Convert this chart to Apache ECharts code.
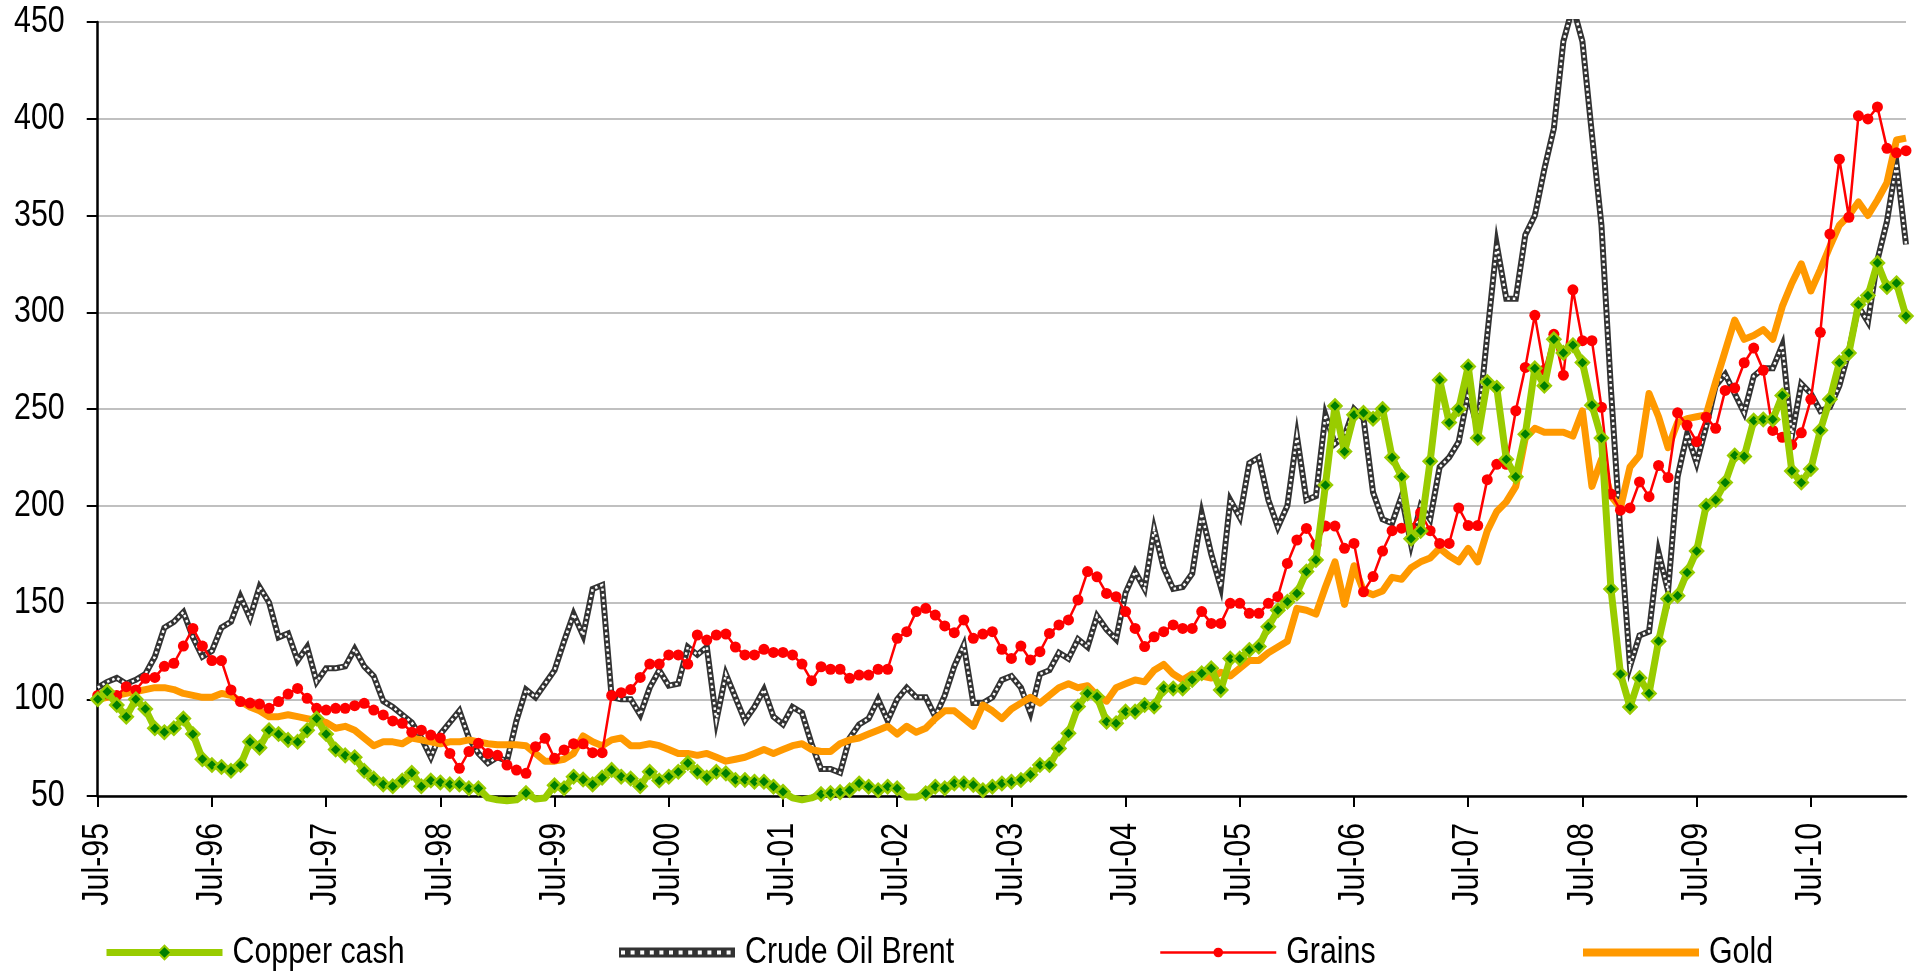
<!DOCTYPE html>
<html>
<head>
<meta charset="utf-8">
<title>Commodities</title>
<script src="https://cdn.jsdelivr.net/npm/echarts@6/dist/echarts.min.js"></script>
<style>
    html, body { margin: 0; padding: 0; background: #fff; overflow: hidden; }
    #main { width: 1919px; height: 973px; }
</style>
</head>
<body>
<div id="main"></div>
<script>
// index values, Jul-95 = 100, one value per month from Jul-95
var copperCash = [
    100, 104, 97, 91, 100, 95, 85, 83, 85, 90,
    82, 69, 66, 65, 63, 66, 78, 75, 84, 82,
    79, 78, 84, 90, 82, 74, 71, 70, 63, 59,
    56, 55, 58, 62, 55, 58, 57, 56, 56, 54,
    54, 49, 48, 47.5, 48, 51.5, 48.5, 49, 55.5, 54,
    60, 58.5, 56, 59.5, 63.5, 60, 59, 55, 62.5, 58,
    60, 62.5, 67, 62.5, 59.5, 62.5, 61.7, 58.3, 58.3, 57.4,
    57.4, 54.8, 52.2, 49, 48, 49, 51, 51.5, 52, 53,
    56.5, 54.8, 53, 54.8, 54, 49.5, 49.5, 51.4, 54.8, 54,
    56.5, 56.5, 55.7, 53, 54.8, 56.5, 57.4, 58.3, 61, 66,
    66, 74.6, 82.4, 96.2, 103, 101.3, 88.4, 87.6, 93.6, 93.6,
    97, 96.2, 105.6, 105.6, 105.6, 110, 113.4, 116, 104.8, 121,
    121, 125.5, 127.2, 137.5, 146, 150.4, 154.7, 166, 172, 210.7,
    251.6, 228, 247, 248, 245, 250, 225, 215, 183, 187,
    223, 265, 243, 250, 272, 235, 264, 261, 224, 215,
    237, 271, 262, 286, 279, 283, 274, 252, 235, 157,
    113, 96, 111, 103, 130, 152, 153.5, 165.5, 176.6, 200,
    203, 212, 226, 225.5, 244, 244.6, 244.6, 257, 218, 212,
    219, 239, 255, 274, 279, 304, 308.6, 325.5, 313, 315,
    298
];

var crudeOilBrent = [
    106, 109, 111, 108, 110, 113, 122, 137, 140, 145,
    132, 122, 125, 137, 140, 153, 142, 158, 150, 132,
    134, 120, 127, 109, 116, 116, 117, 126, 117, 112,
    99, 96, 92, 88, 80, 70, 82, 88, 94, 80,
    72, 67, 70, 68, 89, 105, 101, 108, 115, 130,
    144, 133, 157, 159, 101, 100, 100, 92, 106, 115,
    107, 108, 127, 123, 127, 89, 113, 101, 89, 96,
    105, 91, 87, 96, 93, 77, 64, 64, 62, 80,
    87, 90, 100, 89, 100, 106, 101, 101, 91, 102,
    117, 128, 98, 98, 101, 110, 112, 106, 93, 113,
    115, 124, 121, 131, 127, 143, 136, 131, 155, 166,
    157, 188, 168, 157, 158, 165, 196, 175, 158, 203,
    194, 222, 225, 203, 189, 200, 236, 203, 205, 247,
    232, 236, 250, 245, 207, 193, 191, 205, 180, 200,
    193, 220, 225, 233, 258, 240, 288, 335, 307, 307,
    340, 350, 374, 395, 440, 458, 440, 392, 345, 260,
    185, 117, 133, 135, 176, 156, 215, 237, 222, 241,
    262, 268, 258, 248, 267, 271, 271, 283, 236, 263,
    258, 249, 251, 262, 280, 303, 295, 327, 347, 377,
    335
];

var grains = [
    102, 102.7, 102, 106.5, 104.8, 110.8, 111.3, 117, 118.6, 127.5,
    136.6, 127.5, 120, 120, 104.8, 98.8, 98, 97.5, 95.3, 98.8,
    102.7, 105.6, 100.5, 95.3, 94.4, 95.3, 95.3, 96.7, 97.9, 94.4,
    91.9, 88.8, 87.6, 83, 84, 81.5, 80, 72, 64.3, 73,
    77.2, 72, 71, 66, 63.4, 61.7, 75.5, 79.8, 69.5, 73.8,
    77, 77, 72.4, 72.4, 102, 103.4, 105, 111.3, 118.2, 118.2,
    122.9, 122.9, 118.2, 133.2, 130.6, 133.2, 133.7, 127, 122.9, 122.9,
    125.8, 124.2, 124.2, 122.9, 118.2, 109.6, 116.8, 115.5, 115.5, 110.8,
    112.5, 112.5, 115.5, 115.5, 131.5, 134.9, 145.3, 147, 143.5, 137.9,
    134.4, 141, 131.5, 133.7, 134.9, 125.8, 121.1, 127.5, 120.3, 124.6,
    134, 138.4, 141, 151.3, 166, 163.3, 154.7, 153, 145.3, 136.6,
    127.2, 132.3, 134.9, 138.4, 136.6, 136.6, 145.3, 139.2, 139.2, 149.6,
    149.6, 144.4, 144.4, 149.6, 153, 170.2, 182.3, 188.3, 179.7, 189.5,
    189.5, 178, 180.5, 155.5, 163.4, 176.6, 187.1, 188.4, 188.4, 196.4,
    187.1, 180.5, 180.5, 198.9, 189.8, 189.8, 213.5, 221.4, 221.4, 249.1,
    271.5, 298.4, 270.2, 288.6, 267.5, 311.6, 285.3, 285.3, 250.9, 206.1,
    197.7, 198.9, 212.3, 204.7, 220.8, 214.6, 248, 241.6, 233.1, 245.8,
    240, 259.6, 260.8, 273.9, 281.5, 270, 238.9, 235.4, 231.5, 237.7,
    255, 289.6, 340.4, 379.1, 349.1, 401.5, 399.9, 406.1, 384.7, 382.4,
    383.5
];

var gold = [
    100, 101, 102, 103, 104, 105, 106, 106, 105, 103,
    102, 101, 101, 103, 102, 99, 96, 94, 91, 91,
    92, 91, 90, 89, 88, 85, 86, 84, 80, 76,
    78, 78, 77, 80, 79, 78, 77, 78, 78, 79,
    78, 77, 76.5, 76.5, 76.5, 76, 72, 68, 68, 69,
    72, 81, 78, 76, 79, 80, 76, 76, 77, 76,
    74, 72, 72, 71, 72, 70, 68, 69, 70, 72,
    74, 72, 74, 76, 77, 74, 73, 73, 77, 79,
    80, 82, 84, 86, 82, 86, 83, 85, 90, 94,
    94, 90, 86, 97, 94, 90, 95, 98, 101, 98,
    102, 106, 108, 106, 107, 102, 99, 106, 108, 110,
    109, 115, 118, 113, 110, 113, 112, 111, 114, 112,
    116, 120, 120, 124, 127, 130, 147, 146, 144, 158,
    171, 149, 169, 156, 154, 156, 163, 162, 168, 171,
    173, 178, 174, 171, 178, 171, 187, 197, 202, 210,
    235, 240, 238, 238, 238, 236, 249, 210, 224, 205,
    199, 220, 226, 258, 246, 230, 243, 245, 246, 247,
    264, 280, 296, 286, 288, 291, 286, 303, 315, 325,
    311, 322, 334, 345, 350, 357, 350, 358, 367, 389,
    390
];

var monthNames = ['Jan', 'Feb', 'Mar', 'Apr', 'May', 'Jun', 'Jul', 'Aug', 'Sep', 'Oct', 'Nov', 'Dec'];
var yTicks = [50, 100, 150, 200, 250, 300, 350, 400, 450];

// month labels, starting Jul-95
var categories = [];
for (var k = 0; k < copperCash.length; k++) {
    var m = (6 + k) % 12;
    var yr = 1995 + Math.floor((6 + k) / 12);
    categories.push(monthNames[m] + '-' + String(yr).slice(2));
}

var fontFam = '"Liberation Sans", Arial, sans-serif';
var fontSz = 37;
var narrow = 0.82; // the original uses a narrow font, squeeze the text to match

// points under the axis keep their line but lose their marker (as in excel)
var copperData = copperCash.map(function (v) {
    return v < yTicks[0] ? { value: v, symbol: 'none' } : v;
});

// dark band with white holes, for the brent legend key
var crudeIcon = 'path://M0,0H116V10H0Z';
for (var q = 0; q < 12; q++) {
    var hx = 2 + q * 9.6;
    crudeIcon += 'M' + hx + ',3V7H' + (hx + 4) + 'V3Z';
}

function legendAt(left, item, h) {
    return {
        left: left,
        top: 934,
        padding: 0,
        itemWidth: 116,
        itemHeight: h,
        selectedMode: false,
        data: [item],
        lineStyle: { width: 'inherit' },
        textStyle: { fontFamily: fontFam, fontSize: fontSz, color: '#000', padding: [0, 0, 0, 5] }
    };
}

var option = {
    animation: false,
    backgroundColor: '#fff',
    grid: { left: 95, right: 13, top: 22, bottom: 177 },
    legend: [
        legendAt(103, 'Copper cash', 17),
        legendAt(619, { name: 'Crude Oil Brent', icon: crudeIcon, itemStyle: { color: '#333' } }, 10),
        legendAt(1159, 'Grains', 12),
        legendAt(1583, { name: 'Gold', icon: 'rect' }, 8)
    ],
    xAxis: {
        type: 'category',
        data: categories,
        boundaryGap: false,
        axisLine: { lineStyle: { color: '#000', width: 2.5 } },
        axisTick: { interval: 11, length: 11, lineStyle: { color: '#000', width: 2 } },
        axisLabel: {
            interval: 11,
            rotate: 90,
            margin: 27,
            color: '#000',
            fontFamily: fontFam,
            fontSize: fontSz
        },
        splitLine: { show: false }
    },
    yAxis: {
        type: 'value',
        min: yTicks[0],
        max: yTicks[yTicks.length - 1],
        interval: 50,
        axisLine: { show: true, lineStyle: { color: '#000', width: 2.5 } },
        axisTick: { show: true, length: 11, lineStyle: { color: '#000', width: 2 } },
        axisLabel: { margin: 33, color: '#000', fontFamily: fontFam, fontSize: fontSz },
        splitLine: { lineStyle: { color: '#c0c0c0', width: 2 } }
    },
    series: [
        {
            name: 'Crude Oil Brent',
            type: 'line',
            data: crudeOilBrent,
            symbol: 'none',
            lineStyle: { color: '#333333', width: 6, join: 'miter' },
            itemStyle: { color: '#333333' },
            z: 2
        },
        {
            // white square dots sitting inside the brent line
            name: 'brentDots',
            type: 'line',
            data: crudeOilBrent,
            symbol: 'none',
            silent: true,
            lineStyle: { color: '#ffffff', width: 2.5, type: [2.5, 3], cap: 'butt', join: 'miter' },
            z: 3
        },
        {
            name: 'Gold',
            type: 'line',
            data: gold,
            symbol: 'none',
            lineStyle: { color: '#ff9900', width: 7, join: 'round' },
            itemStyle: { color: '#ff9900' },
            z: 4
        },
        {
            name: 'Grains',
            type: 'line',
            data: grains,
            symbol: 'circle',
            symbolSize: 11,
            showAllSymbol: true,
            lineStyle: { color: '#ff0000', width: 2.5 },
            itemStyle: { color: '#ff0000' },
            z: 5
        },
        {
            name: 'Copper cash',
            type: 'line',
            data: copperData,
            clip: false,
            symbol: 'diamond',
            symbolSize: 13,
            showAllSymbol: true,
            lineStyle: { color: '#99cc00', width: 7, join: 'round' },
            itemStyle: { color: '#007f00', borderColor: '#99cc00', borderWidth: 2.5 },
            z: 6
        }
    ]
};

var myChart = echarts.init(document.getElementById('main'));
myChart.setOption(option);

// screen box of a text element
function screenRect(el) {
    var r = el.getBoundingRect().clone();
    r.applyTransform(el.getComputedTransform());
    return r;
}

// squeeze every text along its writing direction, keeping the edge that faces its axis / key
function condenseTexts(chart, sx) {
    try {
        var zr = chart.getZr();
        var texts = [];
        var visit = function (el) {
            if (el.type === 'text') {
                texts.push(el);
            }
            if (el.isGroup) {
                el.eachChild(visit);
            }
        };
        zr.storage.getRoots().forEach(visit);

        texts.forEach(function (el) {
            var txt = String((el.style && el.style.text) || '');
            var r0 = screenRect(el);
            el.scaleX = sx;
            var r1 = screenRect(el);
            if (categories.indexOf(txt) >= 0) {
                // x labels (standing up): keep the top end next to the axis
                el.y += r0.y - r1.y;
            } else if (/^\d+$/.test(txt)) {
                // y labels: keep the right edge
                el.x += (r0.x + r0.width) - (r1.x + r1.width);
            } else {
                // legend: keep the left edge
                el.x += r0.x - r1.x;
            }
            el.markRedraw();
        });
        zr.storage.getDisplayList(true).forEach(function (d) { d.markRedraw(); });
        zr.refreshImmediately();
    } catch (e) {
        console.log(e);
    }
}
condenseTexts(myChart, narrow);
</script>
</body>
</html>
